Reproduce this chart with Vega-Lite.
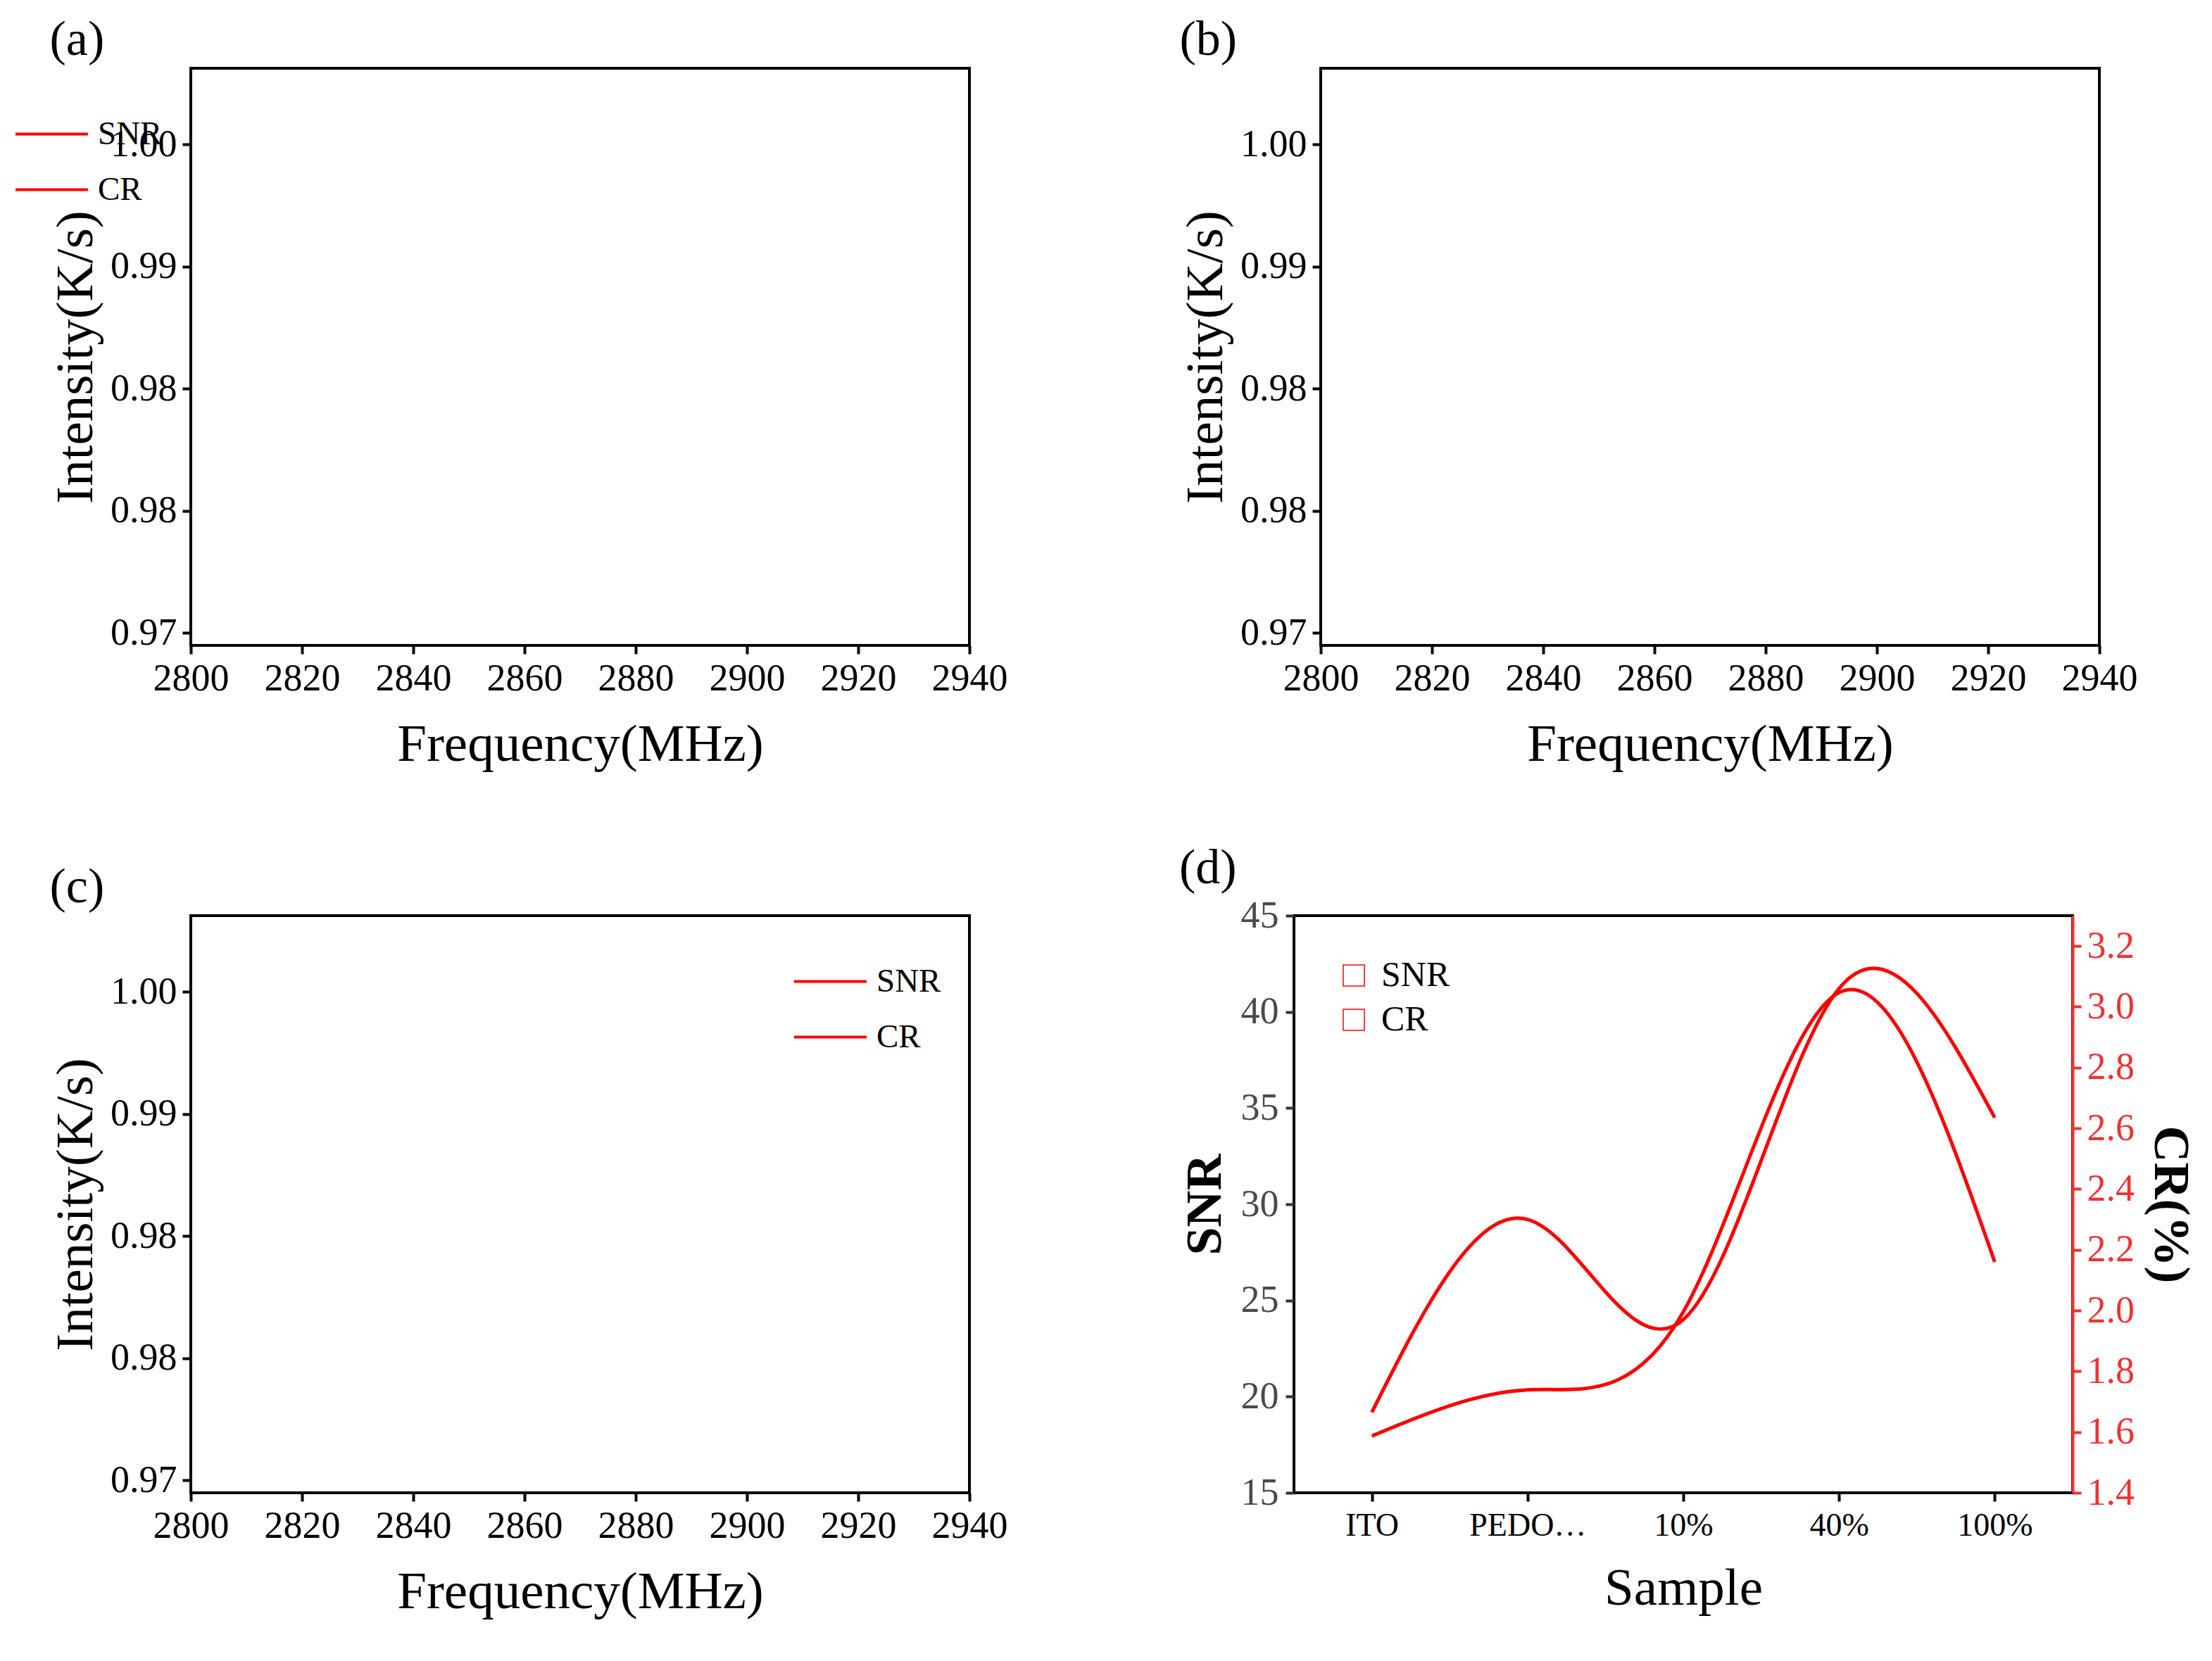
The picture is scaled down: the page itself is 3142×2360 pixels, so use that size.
{
  "$schema": "https://vega.github.io/schema/vega-lite/v5.json",
  "padding": 20,
  "config": {
    "font": "Liberation Serif",
    "background": "white",
    "view": {"stroke": "black", "strokeWidth": 4},
    "axis": {
      "labelFont": "Liberation Serif", "titleFont": "Liberation Serif",
      "labelFontSize": 54, "titleFontSize": 75, "titleFontWeight": "normal",
      "labelColor": "black", "titleColor": "black", "tickColor": "black",
      "tickWidth": 4, "tickSize": 12, "grid": false
    },
    "legend": {"labelFont": "Liberation Serif", "labelColor": "black"},
    "title": {"font": "Liberation Serif", "fontSize": 70, "fontWeight": "normal", "anchor": "start", "color": "black"}
  },
  "datasets": {
    "spectra": [
      {"f":2800,"ito":0.99812,"p40":0.99797,"p100":0.99880},
      {"f":2801,"ito":0.99882,"p40":0.99864,"p100":0.99803},
      {"f":2802,"ito":0.99952,"p40":0.99977,"p100":1.00052},
      {"f":2803,"ito":1.00031,"p40":1.00034,"p100":1.00023},
      {"f":2804,"ito":1.00003,"p40":1.00061,"p100":1.00023},
      {"f":2805,"ito":0.99938,"p40":0.99989,"p100":1.00147},
      {"f":2806,"ito":1.00070,"p40":1.00034,"p100":1.00136},
      {"f":2807,"ito":0.99947,"p40":0.99971,"p100":1.00075},
      {"f":2808,"ito":1.00093,"p40":0.99944,"p100":1.00106},
      {"f":2809,"ito":0.99975,"p40":0.99955,"p100":0.99876},
      {"f":2810,"ito":1.00022,"p40":0.99849,"p100":0.99962},
      {"f":2811,"ito":0.99980,"p40":1.00002,"p100":1.00124},
      {"f":2812,"ito":0.99975,"p40":0.99925,"p100":0.99989},
      {"f":2813,"ito":0.99882,"p40":0.99932,"p100":0.99849},
      {"f":2814,"ito":1.00050,"p40":0.99831,"p100":0.99937},
      {"f":2815,"ito":1.00008,"p40":0.99939,"p100":0.99925},
      {"f":2816,"ito":0.99896,"p40":0.99925,"p100":1.00079},
      {"f":2817,"ito":0.99840,"p40":1.00005,"p100":1.00000},
      {"f":2818,"ito":0.99938,"p40":1.00000,"p100":1.00045},
      {"f":2819,"ito":0.99846,"p40":0.99944,"p100":1.00070},
      {"f":2820,"ito":0.99863,"p40":0.99989,"p100":0.99880},
      {"f":2821,"ito":0.99882,"p40":0.99944,"p100":1.00090},
      {"f":2822,"ito":0.99994,"p40":1.00020,"p100":1.00129},
      {"f":2823,"ito":0.99975,"p40":0.99984,"p100":0.99948},
      {"f":2824,"ito":0.99938,"p40":0.99914,"p100":0.99939},
      {"f":2825,"ito":0.99854,"p40":1.00016,"p100":0.99905},
      {"f":2826,"ito":0.99728,"p40":1.00041,"p100":0.99966},
      {"f":2827,"ito":0.99938,"p40":0.99966,"p100":1.00000},
      {"f":2828,"ito":0.99958,"p40":1.00016,"p100":1.00111},
      {"f":2829,"ito":0.99958,"p40":1.00016,"p100":0.99916},
      {"f":2830,"ito":0.99986,"p40":0.99849,"p100":0.99842},
      {"f":2831,"ito":0.99966,"p40":0.99966,"p100":0.99989},
      {"f":2832,"ito":0.99938,"p40":0.99975,"p100":1.00043},
      {"f":2833,"ito":1.00059,"p40":0.99819,"p100":0.99937},
      {"f":2834,"ito":0.99966,"p40":0.99995,"p100":1.00050},
      {"f":2835,"ito":0.99924,"p40":0.99966,"p100":0.99763},
      {"f":2836,"ito":0.99846,"p40":0.99950,"p100":1.00084},
      {"f":2837,"ito":1.00042,"p40":0.99950,"p100":0.99921},
      {"f":2838,"ito":0.99919,"p40":0.99989,"p100":1.00050},
      {"f":2839,"ito":0.99924,"p40":0.99921,"p100":0.99948},
      {"f":2840,"ito":0.99863,"p40":0.99966,"p100":0.99977},
      {"f":2841,"ito":0.99874,"p40":0.99849,"p100":1.00117},
      {"f":2842,"ito":0.99924,"p40":1.00034,"p100":0.99966},
      {"f":2843,"ito":0.99994,"p40":0.99975,"p100":0.99919},
      {"f":2844,"ito":0.99947,"p40":0.99966,"p100":0.99948},
      {"f":2845,"ito":0.99930,"p40":0.99977,"p100":0.99930},
      {"f":2846,"ito":0.99924,"p40":0.99898,"p100":0.99824},
      {"f":2847,"ito":1.00022,"p40":0.99977,"p100":0.99921},
      {"f":2848,"ito":0.99919,"p40":1.00002,"p100":0.99817},
      {"f":2849,"ito":0.99910,"p40":0.99989,"p100":0.99962},
      {"f":2850,"ito":1.00115,"p40":1.00020,"p100":0.99955},
      {"f":2851,"ito":0.99938,"p40":0.99966,"p100":0.99971},
      {"f":2852,"ito":1.00003,"p40":1.00038,"p100":1.00050},
      {"f":2853,"ito":0.99882,"p40":1.00023,"p100":1.00047},
      {"f":2854,"ito":0.99924,"p40":0.99995,"p100":1.00160},
      {"f":2855,"ito":0.99882,"p40":1.00034,"p100":0.99944},
      {"f":2856,"ito":0.99975,"p40":0.99971,"p100":0.99921},
      {"f":2857,"ito":0.99910,"p40":0.99975,"p100":0.99975},
      {"f":2858,"ito":0.99882,"p40":1.00075,"p100":0.99903},
      {"f":2859,"ito":0.99874,"p40":0.99835,"p100":0.99962},
      {"f":2860,"ito":0.99910,"p40":0.99944,"p100":0.99842},
      {"f":2861,"ito":0.99818,"p40":0.99785,"p100":0.99849},
      {"f":2862,"ito":0.99840,"p40":0.99781,"p100":0.99688},
      {"f":2863,"ito":0.99728,"p40":0.99627,"p100":0.99684},
      {"f":2864,"ito":0.99532,"p40":0.99480,"p100":0.99390},
      {"f":2865,"ito":0.99308,"p40":0.99085,"p100":0.99221},
      {"f":2866,"ito":0.98971,"p40":0.98520,"p100":0.98554},
      {"f":2867,"ito":0.98635,"p40":0.98069,"p100":0.98136},
      {"f":2868,"ito":0.98396,"p40":0.97459,"p100":0.97673},
      {"f":2869,"ito":0.98635,"p40":0.97662,"p100":0.97707},
      {"f":2870,"ito":0.98985,"p40":0.98159,"p100":0.98396},
      {"f":2871,"ito":0.99005,"p40":0.98351,"p100":0.98389},
      {"f":2872,"ito":0.98551,"p40":0.97481,"p100":0.97617},
      {"f":2873,"ito":0.98410,"p40":0.97251,"p100":0.97441},
      {"f":2874,"ito":0.98593,"p40":0.97685,"p100":0.97798},
      {"f":2875,"ito":0.98859,"p40":0.98182,"p100":0.98204},
      {"f":2876,"ito":0.99139,"p40":0.98656,"p100":0.98679},
      {"f":2877,"ito":0.99448,"p40":0.99096,"p100":0.99221},
      {"f":2878,"ito":0.99616,"p40":0.99379,"p100":0.99413},
      {"f":2879,"ito":0.99742,"p40":0.99571,"p100":0.99609},
      {"f":2880,"ito":0.99798,"p40":0.99564,"p100":0.99650},
      {"f":2881,"ito":0.99818,"p40":0.99785,"p100":0.99831},
      {"f":2882,"ito":0.99812,"p40":0.99819,"p100":1.00000},
      {"f":2883,"ito":0.99818,"p40":0.99910,"p100":1.00075},
      {"f":2884,"ito":0.99975,"p40":0.99932,"p100":0.99835},
      {"f":2885,"ito":0.99896,"p40":1.00005,"p100":1.00020},
      {"f":2886,"ito":0.99902,"p40":0.99892,"p100":0.99971},
      {"f":2887,"ito":0.99958,"p40":1.00029,"p100":1.00097},
      {"f":2888,"ito":0.99902,"p40":0.99989,"p100":1.00072},
      {"f":2889,"ito":0.99938,"p40":0.99966,"p100":1.00027},
      {"f":2890,"ito":0.99930,"p40":0.99973,"p100":1.00147},
      {"f":2891,"ito":0.99882,"p40":1.00011,"p100":1.00113},
      {"f":2892,"ito":0.99846,"p40":1.00005,"p100":1.00090},
      {"f":2893,"ito":0.99874,"p40":1.00079,"p100":0.99903},
      {"f":2894,"ito":0.99874,"p40":1.00063,"p100":1.00113},
      {"f":2895,"ito":0.99863,"p40":0.99982,"p100":1.00056},
      {"f":2896,"ito":1.00014,"p40":0.99950,"p100":1.00038},
      {"f":2897,"ito":0.99762,"p40":1.00023,"p100":1.00052},
      {"f":2898,"ito":0.99896,"p40":1.00027,"p100":1.00108},
      {"f":2899,"ito":0.99826,"p40":1.00050,"p100":1.00068},
      {"f":2900,"ito":0.99947,"p40":1.00011,"p100":0.99864},
      {"f":2901,"ito":0.99854,"p40":0.99977,"p100":1.00086},
      {"f":2902,"ito":0.99863,"p40":1.00027,"p100":0.99939},
      {"f":2903,"ito":0.99910,"p40":1.00016,"p100":1.00056},
      {"f":2904,"ito":0.99916,"p40":0.99984,"p100":0.99971},
      {"f":2905,"ito":0.99910,"p40":0.99984,"p100":1.00052},
      {"f":2906,"ito":0.99874,"p40":0.99995,"p100":0.99977},
      {"f":2907,"ito":0.99779,"p40":1.00007,"p100":0.99921},
      {"f":2908,"ito":0.99846,"p40":0.99995,"p100":0.99794},
      {"f":2909,"ito":0.99924,"p40":1.00018,"p100":1.00034},
      {"f":2910,"ito":0.99966,"p40":1.00038,"p100":1.00131},
      {"f":2911,"ito":0.99975,"p40":1.00041,"p100":0.99984},
      {"f":2912,"ito":1.00210,"p40":0.99966,"p100":0.99914},
      {"f":2913,"ito":1.00087,"p40":0.99984,"p100":0.99914},
      {"f":2914,"ito":1.00003,"p40":0.99971,"p100":0.99984},
      {"f":2915,"ito":1.00059,"p40":1.00020,"p100":1.00002},
      {"f":2916,"ito":0.99994,"p40":1.00113,"p100":1.00011},
      {"f":2917,"ito":0.99882,"p40":0.99925,"p100":1.00102},
      {"f":2918,"ito":1.00031,"p40":0.99984,"p100":0.99948},
      {"f":2919,"ito":1.00036,"p40":0.99966,"p100":0.99944},
      {"f":2920,"ito":0.99952,"p40":0.99982,"p100":1.00129},
      {"f":2921,"ito":0.99924,"p40":1.00018,"p100":0.99932},
      {"f":2922,"ito":1.00084,"p40":0.99989,"p100":0.99944},
      {"f":2923,"ito":1.00003,"p40":1.00016,"p100":1.00124},
      {"f":2924,"ito":0.99975,"p40":0.99971,"p100":1.00029},
      {"f":2925,"ito":0.99966,"p40":1.00023,"p100":1.00136},
      {"f":2926,"ito":0.99930,"p40":0.99998,"p100":1.00023},
      {"f":2927,"ito":1.00014,"p40":1.00011,"p100":1.00023},
      {"f":2928,"ito":1.00022,"p40":0.99982,"p100":1.00052},
      {"f":2929,"ito":0.99930,"p40":0.99982,"p100":1.00084},
      {"f":2930,"ito":1.00008,"p40":0.99977,"p100":1.00113},
      {"f":2931,"ito":0.99863,"p40":1.00045,"p100":1.00124},
      {"f":2932,"ito":0.99938,"p40":0.99955,"p100":1.00023},
      {"f":2933,"ito":0.99986,"p40":0.99898,"p100":1.00045},
      {"f":2934,"ito":1.00003,"p40":1.00011,"p100":1.00023},
      {"f":2935,"ito":1.00050,"p40":0.99948,"p100":1.00174},
      {"f":2936,"ito":0.99986,"p40":0.99955,"p100":1.00151},
      {"f":2937,"ito":0.99952,"p40":0.99973,"p100":1.00011},
      {"f":2938,"ito":0.99936,"p40":0.99925,"p100":0.99977},
      {"f":2939,"ito":0.99936,"p40":0.99916,"p100":0.99925},
      {"f":2940,"ito":0.99930,"p40":0.99928,"p100":1.00034}
    ],
    "metrics": [
      {"sample": "ITO", "snr": 17.95, "snr_err": 0.95, "cr": 1.665, "cr_err": 0.06},
      {"sample": "PEDOT：PSS", "snr": 20.35, "snr_err": 1.5, "cr": 2.3, "cr_err": 0.1},
      {"sample": "10%", "snr": 24.4, "snr_err": 1.5, "cr": 1.97, "cr_err": 0.06},
      {"sample": "40%", "snr": 41.0, "snr_err": 1.05, "cr": 3.06, "cr_err": 0.065},
      {"sample": "100%", "snr": 27.0, "snr_err": 1.0, "cr": 2.635, "cr_err": 0.06}
    ]
  },
  "spacing": 100,
  "vconcat": [
    {
      "spacing": 240,
      "hconcat": [
        {
          "width": 1106, "height": 820,
          "title": "(a)",
          "data": {"name": "spectra"},
          "mark": {"type": "line", "strokeWidth": 4},
          "encoding": {
            "x": {"field": "f", "type": "quantitative", "scale": {"domain": [2800, 2940], "nice": false, "zero": false},
              "axis": {"values": [2800, 2820, 2840, 2860, 2880, 2900, 2920, 2940], "format": "d", "labelPadding": 8, "labelFlush": false, "labelOverlap": false, "domain": false, "title": "Frequency(MHz)", "titlePadding": 30}},
            "y": {"field": "ito", "type": "quantitative", "scale": {"domain": [0.96923, 1.00467], "nice": false, "zero": false},
              "axis": {"values": [0.97, 0.9775, 0.985, 0.9925, 1.0], "format": ".2f", "labelPadding": 8, "labelFlush": false, "labelOverlap": false, "domain": false, "title": "Intensity(K/s)", "titlePadding": 10}},
            "color": {"datum": "ITO", "scale": {"range": ["#ff0000"]},
              "legend": {"orient": "top-right", "offset": 40, "title": null, "symbolType": "stroke", "symbolSize": 10600, "symbolStrokeWidth": 4, "labelFontSize": 47, "labelOffset": 12}}
          }
        },
        {
          "width": 1106, "height": 820,
          "title": "(b)",
          "data": {"name": "spectra"},
          "mark": {"type": "line", "strokeWidth": 4},
          "encoding": {
            "x": {"field": "f", "type": "quantitative", "scale": {"domain": [2800, 2940], "nice": false, "zero": false},
              "axis": {"values": [2800, 2820, 2840, 2860, 2880, 2900, 2920, 2940], "format": "d", "labelPadding": 8, "labelFlush": false, "labelOverlap": false, "domain": false, "title": "Frequency(MHz)", "titlePadding": 30}},
            "y": {"field": "p40", "type": "quantitative", "scale": {"domain": [0.96923, 1.00467], "nice": false, "zero": false},
              "axis": {"values": [0.97, 0.9775, 0.985, 0.9925, 1.0], "format": ".2f", "labelPadding": 8, "labelFlush": false, "labelOverlap": false, "domain": false, "title": "Intensity(K/s)", "titlePadding": 10}},
            "color": {"datum": "40%", "scale": {"range": ["#2040ff"]},
              "legend": {"orient": "top-right", "offset": 40, "title": null, "symbolType": "stroke", "symbolSize": 10600, "symbolStrokeWidth": 4, "labelFontSize": 47, "labelOffset": 12}}
          }
        }
      ]
    },
    {
      "spacing": 240,
      "hconcat": [
        {
          "width": 1106, "height": 820,
          "title": "(c)",
          "data": {"name": "spectra"},
          "mark": {"type": "line", "strokeWidth": 4},
          "encoding": {
            "x": {"field": "f", "type": "quantitative", "scale": {"domain": [2800, 2940], "nice": false, "zero": false},
              "axis": {"values": [2800, 2820, 2840, 2860, 2880, 2900, 2920, 2940], "format": "d", "labelPadding": 8, "labelFlush": false, "labelOverlap": false, "domain": false, "title": "Frequency(MHz)", "titlePadding": 30}},
            "y": {"field": "p100", "type": "quantitative", "scale": {"domain": [0.96923, 1.00467], "nice": false, "zero": false},
              "axis": {"values": [0.97, 0.9775, 0.985, 0.9925, 1.0], "format": ".2f", "labelPadding": 8, "labelFlush": false, "labelOverlap": false, "domain": false, "title": "Intensity(K/s)", "titlePadding": 10}},
            "color": {"datum": "100%", "scale": {"range": ["#7a10f0"]},
              "legend": {"orient": "top-right", "offset": 40, "title": null, "symbolType": "stroke", "symbolSize": 10600, "symbolStrokeWidth": 4, "labelFontSize": 47, "labelOffset": 12}}
          }
        },
        {
          "width": 1106, "height": 820,
          "title": "(d)",
          "data": {"name": "metrics"},
          "encoding": {
            "x": {"field": "sample", "type": "ordinal",
              "scale": {"type": "point", "padding": 0.5, "domain": ["ITO", "PEDOT：PSS", "10%", "40%", "100%"]},
              "axis": {"title": "Sample", "labelFontSize": 46, "labelAngle": 0, "labelPadding": 12, "titlePadding": 30, "domain": false}}
          },
          "layer": [
            {
              "mark": {"type": "line", "interpolate": "natural", "strokeWidth": 5},
              "encoding": {
                "y": {"field": "snr", "type": "quantitative", "scale": {"domain": [15, 45], "nice": false, "zero": false},
                  "axis": {"orient": "left", "values": [15, 20, 25, 30, 35, 40, 45], "labelPadding": 10, "labelColor": "#4a4a4a", "tickColor": "#333333", "labelFlush": false, "labelOverlap": false, "domain": false, "title": "SNR", "titleFontWeight": "bold", "titleFontSize": 72, "titlePadding": 14}},
                "color": {"datum": "SNR", "scale": {"domain": ["SNR", "CR"], "range": ["#404040", "#ee3333"]},
                  "legend": {"orient": "top-left", "offset": 60, "title": null, "symbolType": "square", "symbolSize": 900, "labelFontSize": 50, "labelOffset": 14, "rowPadding": 13}}
              }
            },
            {
              "mark": {"type": "line", "interpolate": "natural", "strokeWidth": 5},
              "encoding": {
                "y": {"field": "cr", "type": "quantitative", "scale": {"domain": [1.4, 3.3], "nice": false, "zero": false},
                  "axis": {"orient": "right", "values": [1.4, 1.6, 1.8, 2.0, 2.2, 2.4, 2.6, 2.8, 3.0, 3.2], "format": ".1f", "labelPadding": 8, "labelColor": "#ee3333", "tickColor": "#ee3333", "labelFlush": false, "labelOverlap": false, "domain": true, "domainColor": "#ee3333", "domainWidth": 4, "title": "CR(%)", "titleFontWeight": "bold", "titleFontSize": 72, "titlePadding": 14}},
                "color": {"datum": "CR"}
              }
            }
          ],
          "resolve": {"scale": {"y": "independent"}}
        }
      ]
    }
  ]
}
